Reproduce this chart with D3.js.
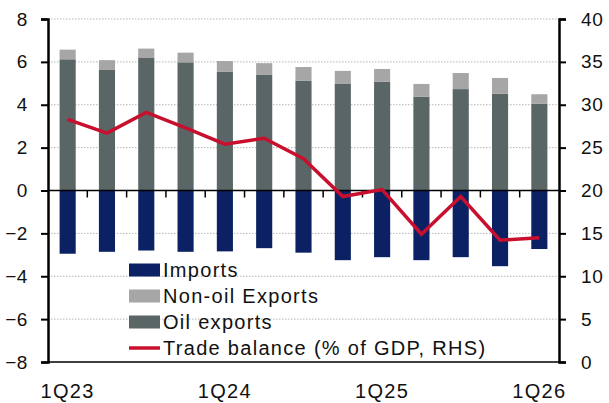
<!DOCTYPE html>
<html>
<head>
<meta charset="utf-8">
<script src="https://cdn.jsdelivr.net/npm/d3@7"></script>
<style>
  body { margin: 0; background: #fff; }
  text { font-family: "Liberation Sans", Arial, sans-serif; fill: #111; }
</style>
</head>
<body>
<div id="chart-area"></div>
<script>
// Data
var quarters = ["1Q23","2Q23","3Q23","4Q23","1Q24","2Q24","3Q24","4Q24","1Q25","2Q25","3Q25","4Q25","1Q26"];
var oilExports = [6.12, 5.62, 6.18, 5.98, 5.55, 5.41, 5.13, 4.97, 5.08, 4.38, 4.73, 4.51, 4.04];
var nonOilExports = [0.45, 0.46, 0.44, 0.45, 0.49, 0.53, 0.63, 0.61, 0.59, 0.59, 0.75, 0.74, 0.45];
var imports = [-2.95, -2.86, -2.80, -2.86, -2.84, -2.69, -2.90, -3.25, -3.11, -3.25, -3.11, -3.53, -2.73];
var tradeBalance = [28.3, 26.7, 29.1, 27.3, 25.4, 26.1, 23.7, 19.3, 20.1, 14.9, 19.3, 14.2, 14.5];
var xLabels = ["1Q23", "1Q24", "1Q25", "1Q26"];
var leftTicks = [-8, -6, -4, -2, 0, 2, 4, 6, 8];
var rightTicks = [0, 5, 10, 15, 20, 25, 30, 35, 40];

var margin = { left: 48, right: 50, top: 19, bottom: 41 },
    width = 609 - margin.left - margin.right,
    height = 403 - margin.top - margin.bottom;

var svg = d3.select("#chart-area").append("svg")
    .attr("width", 609)
    .attr("height", 403);

var g = svg.append("g")
    .attr("transform", "translate(" + margin.left + "," + margin.top + ")");

// Scales
var x = d3.scaleBand().domain(quarters).range([0, width]).paddingInner(0.59).paddingOuter(0.295);
var y = d3.scaleLinear().domain([-8, 8]).range([height, 0]);
var y2 = d3.scaleLinear().domain([0, 40]).range([height, 0]);

// Gridlines
g.selectAll(".grid").data(leftTicks.filter(function(d){ return d != 0 && d != -8; }))
    .enter().append("line")
    .attr("x1", 0).attr("x2", width)
    .attr("y1", function(d){ return y(d); })
    .attr("y2", function(d){ return y(d); })
    .attr("stroke", "#b5b5b5")
    .attr("stroke-width", 1)
    .attr("stroke-dasharray", "1.5,1.5");

var colors = { oil: "#5a6566", nonoil: "#a6a6a6", imports: "#0c2163", line: "#c8102e" };

// Oil exports
g.selectAll(".oil").data(quarters).enter().append("rect")
    .attr("x", function(d){ return x(d); })
    .attr("width", x.bandwidth())
    .attr("y", function(d, i){ return y(oilExports[i]); })
    .attr("height", function(d, i){ return y(0) - y(oilExports[i]); })
    .attr("fill", colors.oil);

// Non-oil exports stacked on top
g.selectAll(".nonoil").data(quarters).enter().append("rect")
    .attr("x", function(d){ return x(d); })
    .attr("width", x.bandwidth())
    .attr("y", function(d, i){ return y(oilExports[i] + nonOilExports[i]); })
    .attr("height", function(d, i){ return y(oilExports[i]) - y(oilExports[i] + nonOilExports[i]); })
    .attr("fill", colors.nonoil);

// Imports
g.selectAll(".imp").data(quarters).enter().append("rect")
    .attr("x", function(d){ return x(d); })
    .attr("width", x.bandwidth())
    .attr("y", y(0))
    .attr("height", function(d, i){ return y(imports[i]) - y(0); })
    .attr("fill", colors.imports);

// Zero line with category ticks
g.append("line")
    .attr("x1", 0).attr("x2", width)
    .attr("y1", y(0)).attr("y2", y(0))
    .attr("stroke", "#000").attr("stroke-width", 1.5);

var step = x.step();
g.selectAll(".xtick").data(d3.range(1, quarters.length)).enter().append("line")
    .attr("x1", function(i){ return i * step; })
    .attr("x2", function(i){ return i * step; })
    .attr("y1", y(0)).attr("y2", y(0) + 7)
    .attr("stroke", "#000").attr("stroke-width", 1.5);

// Trade balance line (RHS)
var line = d3.line()
    .x(function(d, i){ return x(quarters[i]) + x.bandwidth() / 2; })
    .y(function(d){ return y2(d); });

g.append("path")
    .datum(tradeBalance)
    .attr("d", line)
    .attr("fill", "none")
    .attr("stroke", colors.line)
    .attr("stroke-width", 3.5)
    .attr("stroke-linejoin", "miter");

// Bottom line
g.append("line")
    .attr("x1", 0).attr("x2", width)
    .attr("y1", height).attr("y2", height)
    .attr("stroke", "#000").attr("stroke-width", 1.5);

// Axes
var yAxis = g.append("g")
    .call(d3.axisLeft(y).tickValues(leftTicks).tickSize(7).tickPadding(13));
var y2Axis = g.append("g")
    .attr("transform", "translate(" + width + ",0)")
    .call(d3.axisRight(y2).tickValues(rightTicks).tickSize(7).tickPadding(15));

[yAxis, y2Axis].forEach(function(a){
    a.select(".domain").attr("stroke", "#000").attr("stroke-width", 2.5);
    a.selectAll(".tick line").attr("stroke", "#000").attr("stroke-width", 2);
    a.selectAll(".tick text").attr("font-size", "19px").attr("fill", "#111")
        .style("letter-spacing", "0.6px")
        .style("font-family", "'Liberation Sans', Arial, sans-serif");
});

// X labels
g.selectAll(".xlab").data(xLabels).enter().append("text")
    .attr("x", function(d){ return x(d) + x.bandwidth() / 2; })
    .attr("y", height + 36)
    .attr("text-anchor", "middle")
    .attr("font-size", "20px")
    .style("letter-spacing", "1.3px")
    .text(function(d){ return d; });

// Legend
var legendItems = [
    { name: "Imports", color: colors.imports, type: "rect" },
    { name: "Non-oil Exports", color: colors.nonoil, type: "rect" },
    { name: "Oil exports", color: colors.oil, type: "rect" },
    { name: "Trade balance (% of GDP, RHS)", color: colors.line, type: "line" }
];

var legend = svg.append("g").attr("transform", "translate(129,270)");
legend.selectAll(".leg").data(legendItems).enter().append("g")
    .attr("transform", function(d, i){ return "translate(0," + (i * 26) + ")"; })
    .each(function(d){
        var el = d3.select(this);
        if (d.type == "rect") {
            el.append("rect").attr("x", 0).attr("y", -6.5).attr("width", 31).attr("height", 13).attr("fill", d.color);
        } else {
            el.append("line").attr("x1", 0).attr("x2", 31).attr("y1", 0).attr("y2", 0)
                .attr("stroke", d.color).attr("stroke-width", 3.5);
        }
        el.append("text").attr("x", 34).attr("y", 7.3).attr("font-size", "20px")
            .style("letter-spacing", "1.3px").text(d.name);
    });
</script>
</body>
</html>
